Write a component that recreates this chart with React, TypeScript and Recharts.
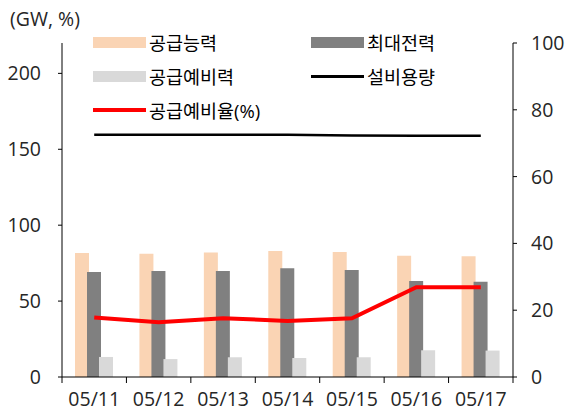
import { ComposedChart, Bar, Line, XAxis, YAxis } from 'recharts'

const dates = ['05/11', '05/12', '05/13', '05/14', '05/15', '05/16', '05/17']
const supply = [81.6, 81.2, 82.0, 83.0, 82.3, 79.9, 79.6]
const peak = [69.1, 69.8, 69.8, 71.7, 70.4, 63.2, 62.7]
const reserve = [13.2, 11.8, 13.0, 12.5, 13.0, 17.6, 17.4]
const capacity = [159.6, 159.6, 159.6, 159.6, 159.0, 158.9, 158.9]
const rate = [17.8, 16.4, 17.6, 16.8, 17.6, 26.9, 26.9]
const leftTicks = [0, 50, 100, 150, 200]
const rightTicks = [0, 20, 40, 60, 80, 100]

const data = dates.map((d, i) => ({
  date: d,
  supply: supply[i],
  peak: peak[i],
  reserve: reserve[i],
  capacity: capacity[i],
  rate: rate[i],
}))

const W = 566
const H = 414
const TOP = 43
const LEFT_W = 62
const RIGHT_W = 53
const BOTTOM_H = 37
const PLOT_W = W - LEFT_W - RIGHT_W
const AXIS_Y = H - BOTTOM_H
const FONT = "'Open Sans', 'Noto Sans CJK KR', sans-serif"
const TXT = '#262626'

const PEACH = '#FAD4B4'
const GRAY = '#808080'
const LIGHT = '#D9D9D9'
const RED = '#FF0000'

function XTick(props: any) {
  const { x, payload, index } = props
  const bw = PLOT_W / dates.length
  const last = index === dates.length - 1
  return (
    <g>
      <line x1={x - bw / 2} x2={x - bw / 2} y1={AXIS_Y} y2={AXIS_Y + 6} stroke="#000" />
      {last && <line x1={x + bw / 2} x2={x + bw / 2} y1={AXIS_Y} y2={AXIS_Y + 6} stroke="#000" />}
      <text x={x} y={AXIS_Y + 29} textAnchor="middle" fontSize={19.5} fill={TXT} fontFamily={FONT}>
        {payload.value}
      </text>
    </g>
  )
}

const legendItems = [
  { label: '공급능력', color: PEACH, kind: 'rect', left: 93, top: 42 },
  { label: '최대전력', color: GRAY, kind: 'rect', left: 311, top: 42 },
  { label: '공급예비력', color: LIGHT, kind: 'rect', left: 93, top: 76 },
  { label: '설비용량', color: '#000', kind: 'line', left: 311, top: 76 },
  { label: '공급예비율(%)', color: RED, kind: 'redline', left: 93, top: 110 },
]

export default function App() {
  return (
    <div style={{ position: 'absolute', left: 0, top: 0, width: W, height: H, background: '#fff' }}>
      <ComposedChart
        width={W}
        height={H}
        data={data}
        margin={{ top: TOP, right: 0, left: 0, bottom: 0 }}
        barSize={14}
        barGap={-2}
      >
        <XAxis
          dataKey="date"
          height={BOTTOM_H}
          tickLine={false}
          axisLine={{ stroke: '#000' }}
          tick={<XTick />}
          interval={0}
        />
        <YAxis
          yAxisId="left"
          width={LEFT_W}
          domain={[0, 220]}
          ticks={leftTicks}
          tickSize={4}
          tickMargin={17}
          axisLine={{ stroke: '#000' }}
          tickLine={{ stroke: '#000' }}
          tick={{ fontSize: 19.5, fill: TXT, fontFamily: FONT }}
        />
        <YAxis
          yAxisId="right"
          orientation="right"
          width={RIGHT_W}
          domain={[0, 100]}
          ticks={rightTicks}
          tickSize={4}
          tickMargin={14}
          axisLine={{ stroke: '#000' }}
          tickLine={{ stroke: '#000' }}
          tick={{ fontSize: 19.5, fill: TXT, fontFamily: FONT, textAnchor: 'start' }}
        />
        <Bar yAxisId="left" dataKey="supply" fill={PEACH} isAnimationActive={false} />
        <Bar yAxisId="left" dataKey="peak" fill={GRAY} isAnimationActive={false} />
        <Bar yAxisId="left" dataKey="reserve" fill={LIGHT} isAnimationActive={false} />
        <Line yAxisId="left" dataKey="capacity" stroke="#000" strokeWidth={2.5} dot={false} isAnimationActive={false} />
        <Line yAxisId="right" dataKey="rate" stroke={RED} strokeWidth={4} dot={false} isAnimationActive={false} />
      </ComposedChart>
      <div style={{ position: 'absolute', left: 10, top: 5, fontSize: 19.5, color: TXT, fontFamily: FONT }}>(GW, %)</div>
      {legendItems.map((it) => (
        <div
          key={it.label}
          style={{
            position: 'absolute',
            left: it.left,
            top: it.top - 12,
            height: 24,
            display: 'flex',
            alignItems: 'center',
            fontFamily: FONT,
            fontSize: 18.5,
            color: '#000',
            whiteSpace: 'nowrap',
          }}
        >
          <span
            style={{
              display: 'inline-block',
              width: 53,
              height: it.kind === 'rect' ? 11 : it.kind === 'redline' ? 4 : 3,
              background: it.color,
              marginRight: 3,
            }}
          />
          {it.label}
        </div>
      ))}
    </div>
  )
}
